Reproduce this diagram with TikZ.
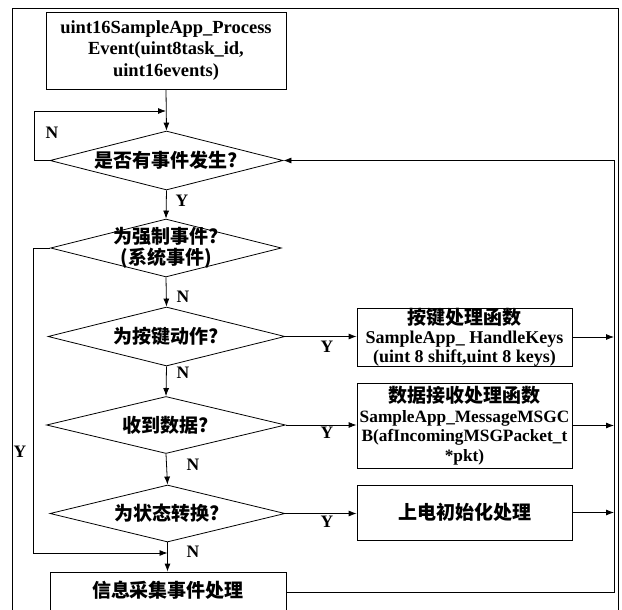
\documentclass[tikz,border=0pt]{standalone}
\usepackage{fontspec}
\setmainfont{Liberation Serif}
\newfontfamily\cjk{Noto Sans CJK SC}
\usetikzlibrary{arrows.meta,shapes.geometric}
\begin{document}
\begin{tikzpicture}[x=1pt,y=-1pt,line width=0.8pt,
  >={Latex[length=8pt,width=6pt]},
  box/.style={draw,rectangle,inner sep=0pt},
  dia/.style={draw,diamond,inner sep=0pt},
  lat/.style={font=\fontsize{18.5}{21.5}\selectfont\bfseries},
  zh/.style={font={\cjk\bfseries\fontsize{19}{21}\selectfont}},
  lbl/.style={font=\fontsize{17.5}{18}\selectfont\bfseries,inner sep=0pt}]
\useasboundingbox (0,0) rectangle (622,610);
\begin{scope}
\clip (0,0) rectangle (622,610);
% outer frame
\coordinate (fbl) at (12,640);
\coordinate (ftl) at (12,8);
\coordinate (ftr) at (618,8);
\coordinate (fbr) at (618,640);
\draw (fbl) -- (ftl) -- (ftr) -- (fbr);

% start box
\node[box,minimum width=240pt,minimum height=77pt] (start) at (166,50.5) {};
\node[lat,align=center] (starttxt) at (start) {uint16SampleApp\_Process\\Event(uint8task\_id,\\uint16events)};

% diamonds
\node[dia,minimum width=233pt,minimum height=59pt] (d1) at (166.5,160.5) {};
\node[zh] (d1t) at (d1) {是否有事件发生?};
\node[dia,minimum width=231pt,minimum height=58pt] (d2) at (166,248) {};
\node[zh,align=center] (d2t) at (d2) {为强制事件?\\(系统事件)};
\node[dia,minimum width=237pt,minimum height=59pt] (d3) at (166.5,336.5) {};
\node[zh] (d3t) at (d3) {为按键动作?};
\node[dia,minimum width=239pt,minimum height=57pt] (d4) at (166,425) {};
\node[zh] (d4t) at (d4) {收到数据?};
\node[dia,minimum width=235pt,minimum height=57pt] (d5) at (167.5,513.5) {};
\node[zh] (d5t) at (d5) {为状态转换?};

% right boxes
\node[box,minimum width=215pt,minimum height=58pt] (b1) at (464.5,337) {};
\node[lat,align=center,font=\fontsize{18}{19}\selectfont\bfseries] (b1t) at (b1)
  {{\cjk\bfseries\fontsize{19}{19}\selectfont 按键处理函数}\\SampleApp\_ HandleKeys\\(uint 8 shift,uint 8 keys)};
\node[box,minimum width=215pt,minimum height=85pt] (b2) at (464.5,425.5) {};
\node[lat,align=center,font=\fontsize{17.3}{19.5}\selectfont\bfseries] (b2t) at (b2)
  {{\cjk\bfseries\fontsize{19}{19.5}\selectfont 数据接收处理函数}\\SampleApp\_MessageMSGC\\B(afIncomingMSGPacket\_t\\*pkt)};
\node[box,minimum width=215pt,minimum height=55pt] (b3) at (464.5,512.5) {};
\node[zh] (b3t) at (b3) {上电初始化处理};

% bottom box
\node[box,minimum width=236pt,minimum height=40pt] (b4) at (168,592) {};
\node[zh] (b4t) at (168,590) {信息采集事件处理};

% coordinates for routing
\coordinate (nl) at (34,111);
\coordinate (nj) at (166,111);
\coordinate (yl) at (33,553);
\coordinate (yj) at (167.5,553);
\coordinate (rt) at (614,160.5);
\coordinate (rb) at (614,592);

% main vertical flow
\draw[->] (start.south) -- (d1.north);
\draw[->] (d1.south) -- (d2.north);
\draw[->] (d2.south) -- (d3.north);
\draw[->] (d3.south) -- (d4.north);
\draw[->] (d4.south) -- (d5.north);
\draw[->] (d5.south) -- (d5.south |- b4.north);

% loops
\draw[->] (d1.west) -| (nl) -- (nj);
\draw[->] (d2.west) -| (yl) -- (yj);

% right branches
\draw[->] (d3.east) -- (d3.east -| b1.west);
\draw[->] (d4.east) -- (d4.east -| b2.west);
\draw[->] (d5.east) -- (d5.east -| b3.west);
\draw[->] (b1.east) -- (b1.east -| rt);
\draw[->] (b2.east) -- (b2.east -| rt);
\draw[->] (b3.east) -- (b3.east -| rt);
\draw[->] (b4.east) -- (rb) -- (rt) -- (d1.east);

% labels
\node[lbl] (l1) at (52,133) {N};
\node[lbl] (l2) at (182,201) {Y};
\node[lbl] (l3) at (183,297) {N};
\node[lbl] (l4) at (183,373) {N};
\node[lbl] (l5) at (193,465) {N};
\node[lbl] (l6) at (193,552) {N};
\node[lbl] (l7) at (327,347) {Y};
\node[lbl] (l8) at (327,433) {Y};
\node[lbl] (l9) at (327,522) {Y};
\node[lbl] (l10) at (20,452) {Y};
\end{scope}
\end{tikzpicture}
\end{document}
